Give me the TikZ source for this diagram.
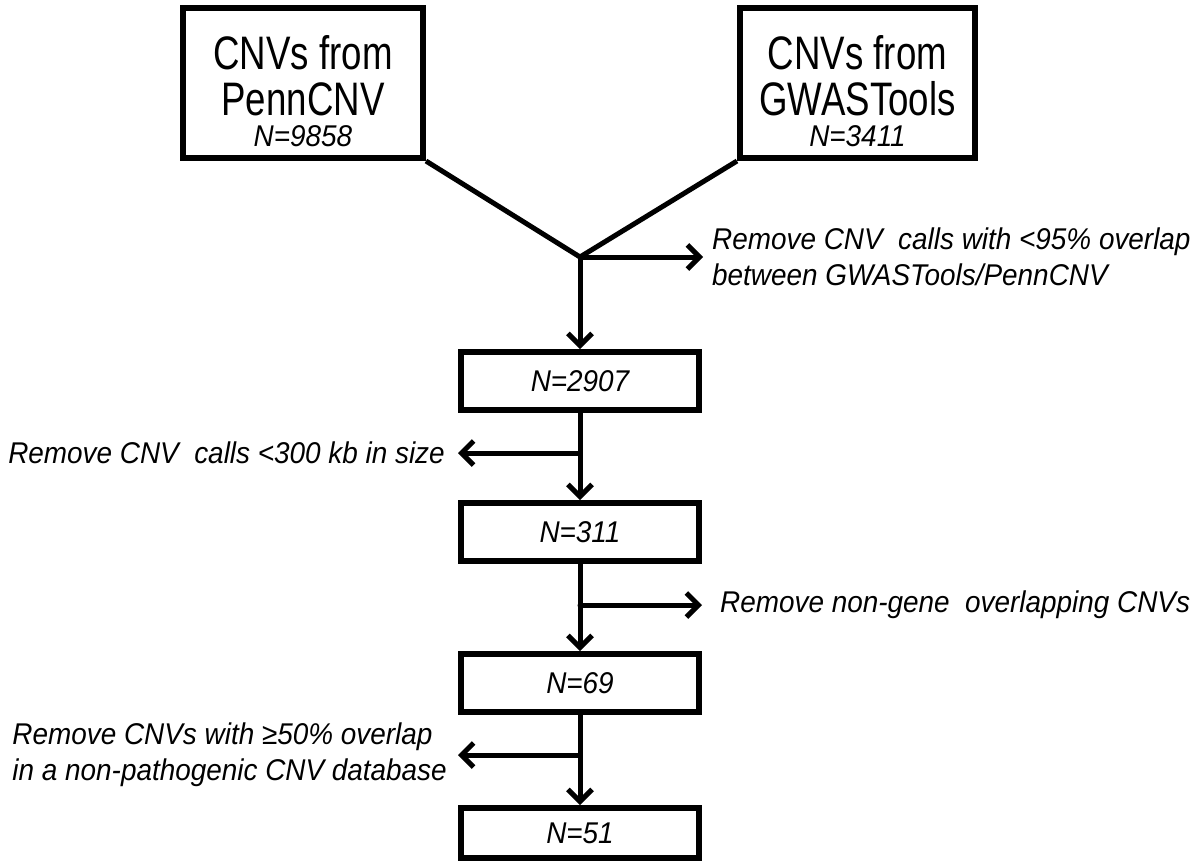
\documentclass[tikz,border=0pt]{standalone}
\usepackage{fontspec}
\setmainfont{Liberation Sans}
\newfontfamily\narrowsans[FakeStretch=0.78]{Liberation Sans}
\newfontfamily\notesans[FakeStretch=0.93]{Liberation Sans}
\usetikzlibrary{arrows.meta,calc}

\tikzset{
  stagebox/.style={draw, line width=6pt, fill=white, inner sep=0pt,
    minimum width=238pt, minimum height=58pt,
    font=\notesans\fontsize{30}{32}\selectfont\itshape},
  sourcebox/.style={draw, line width=6pt, fill=white, inner sep=0pt,
    minimum height=150pt},
  bigtext/.style={anchor=base, inner sep=0pt,
    font=\narrowsans\fontsize{47}{50}\selectfont},
  counttext/.style={anchor=base, inner sep=0pt,
    font=\notesans\fontsize{30}{32}\selectfont\itshape},
  flow/.style={line width=5pt, line cap=round,
    -{Straight Barb[length=12pt,width=24pt,line width=5pt]}},
  mergeline/.style={line width=5pt},
  note/.style={inner sep=0pt, align=left,
    font=\notesans\fontsize{30}{36}\selectfont\itshape}
}

\begin{document}
\begin{tikzpicture}[x=1pt,y=-1pt]
  \useasboundingbox (0,0) rectangle (1200,860);

  % data sources
  \node[sourcebox, minimum width=240pt] (penn) at (303,83) {};
  \node[bigtext] (penn-a) at (303,69) {CNVs from};
  \node[bigtext] (penn-b) at (303,115) {PennCNV};
  \node[counttext] (penn-n) at (303,146) {N=9858};

  \node[sourcebox, minimum width=235pt] (gwas) at (857.5,83) {};
  \node[bigtext] (gwas-a) at (857.5,69) {CNVs from};
  \node[bigtext] (gwas-b) at (857.5,115) {GWASTools};
  \node[counttext] (gwas-n) at (857.5,146) {N=3411};

  % filtering stages
  \node[stagebox] (s1) at (580,381) {N=2907};
  \node[stagebox] (s2) at (580,532) {N=311};
  \node[stagebox] (s3) at (580,683) {N=69};
  \node[stagebox, minimum height=50pt] (s4) at (580,833) {N=51};

  % merge point and side exits
  \coordinate (merge) at (580,257);
  \coordinate (e1) at (703,257);
  \coordinate (e2) at (458,453);
  \coordinate (e3) at (702,605);
  \coordinate (e4) at (458,755);
  \coordinate (t2) at (580,453);
  \coordinate (t3) at (580,605);
  \coordinate (t4) at (580,755);

  \draw[mergeline] (penn.south east) -- (merge) -- (gwas.south west);
  \draw[flow] (merge) -- (s1.north);
  \draw[flow] (merge) -- (e1);
  \draw[flow] (s1.south) -- (s2.north);
  \draw[flow] (t2) -- (e2);
  \draw[flow] (s2.south) -- (s3.north);
  \draw[flow] (t3) -- (e3);
  \draw[flow] (s3.south) -- (s4.north);
  \draw[flow] (t4) -- (e4);

  % exclusion notes
  \node[note, anchor=west] (n1) at (712,257)
    {Remove CNV\ \ calls with <95\% overlap\\between GWASTools/PennCNV};
  \node[note, anchor=east] (n2) at (445,453)
    {Remove CNV\ \ calls <300 kb in size};
  \node[note, anchor=west] (n3) at (720,605)
    {Remove non-gene\ \ overlapping CNVs};
  \node[note, anchor=east] (n4) at (447,755)
    {Remove CNVs with ≥50\% overlap\\in a non-pathogenic CNV database};
\end{tikzpicture}
\end{document}
